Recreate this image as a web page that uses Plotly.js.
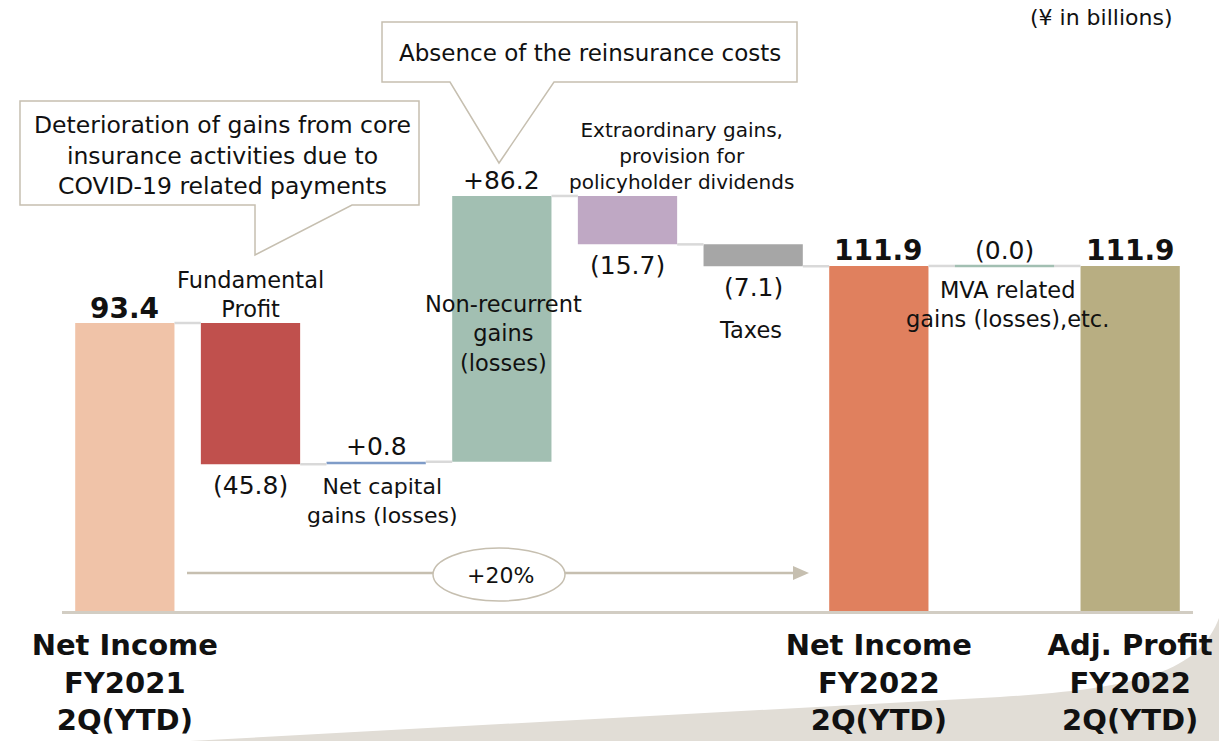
<!DOCTYPE html>
<html><head><meta charset="utf-8">
<script src="https://cdn.plot.ly/plotly-3.0.1.min.js"></script>
<style>html,body{margin:0;padding:0;background:#fff}#chart{width:1219px;height:741px}</style>
</head><body><div id="chart"></div>
<script>
// ---------- data ----------
const categories = ["Net Income FY2021 2Q(YTD)", "Fundamental Profit", "Net capital gains (losses)",
  "Non-recurrent gains (losses)", "Extraordinary gains, provision for policyholder dividends", "Taxes",
  "Net Income FY2022 2Q(YTD)", "MVA related gains (losses),etc.", "Adj. Profit FY2022 2Q(YTD)"];
const tickLabels = ["Net Income<br>FY2021<br>2Q(YTD)", "", "", "", "", "", "Net Income<br>FY2022<br>2Q(YTD)", "", "Adj. Profit<br>FY2022<br>2Q(YTD)"];
const measures = ["total", "relative", "relative", "relative", "relative", "relative", "total", "relative", "total"];
const values = [93.4, -45.8, 0.8, 86.2, -15.7, -7.1, 111.9, -0.0, 111.9];
const valueLabels = ["93.4", "(45.8)", "+0.8", "+86.2", "(15.7)", "(7.1)", "111.9", "(0.0)", "111.9"];
const stepLabels = ["", "Fundamental<br>Profit", "Net capital<br>gains (losses)", "Non-recurrent<br>gains<br>(losses)",
  "Extraordinary gains,<br>provision for<br>policyholder dividends", "Taxes", "", "MVA related<br>gains (losses),etc.", ""];
const barColors = ["#F0C3A8", "#C0504D", "#7F9CC8", "#A2BFB2", "#BFA8C4", "#A6A6A6", "#E0805E", "#A2BFB2", "#B8AE82"];
const unitLabel = "(¥ in billions)";
const calloutTexts = ["Deterioration of gains from core<br>insurance activities due to<br>COVID-19 related payments",
  "Absence of the reinsurance costs"];
const growthLabel = "+20%";

// ---------- layout geometry ----------
const W = 1219, H = 741;
const M = {l: 62, r: 26, t: 20, b: 130};
const plotW = W - M.l - M.r, plotH = H - M.t - M.b;
const pxPerUnit = 288 / 93.4;
const yMax = plotH / pxPerUnit;
const px = x => (x - M.l) / plotW;
const py = y => (H - M.b - y) / plotH;
const barW = 0.79, hw = barW / 2;
const FONT = "DejaVu Sans";
const INK = "#111111";
const BEIGE = "#C6BFB0";

// ---------- waterfall computation ----------
const xs = categories.map((_, i) => i);
const bases = [], heights = [], ends = [];
let run = 0;
values.forEach((v, i) => {
  if (measures[i] === "total") { bases.push(0); heights.push(v); run = v; }
  else { bases.push(run); heights.push(v); run = run + v; }
  ends.push(run);
});

const traces = [];
traces.push({
  type: "bar", x: xs, y: heights, base: bases, width: barW,
  marker: {color: barColors, line: {width: 0}}, hoverinfo: "skip", showlegend: false
});
// connectors
const cx = [], cy = [];
for (let i = 0; i < xs.length - 1; i++) {
  cx.push(xs[i] + hw, xs[i + 1] - hw, null);
  cy.push(ends[i], ends[i], null);
}
traces.push({type: "scatter", mode: "lines", x: cx, y: cy, line: {color: "#D9D9D9", width: 2.5},
  hoverinfo: "skip", showlegend: false});
// zero-height steps drawn as a thin line in their colour
values.forEach((v, i) => {
  if (Math.abs(v) < 0.05 && measures[i] === "relative") {
    traces.push({type: "scatter", mode: "lines", x: [xs[i] - hw, xs[i] + hw], y: [bases[i], bases[i]],
      line: {color: barColors[i], width: 2.5}, hoverinfo: "skip", showlegend: false});
  }
});

// ---------- annotations ----------
const ann = [];
values.forEach((v, i) => {
  const top = Math.max(bases[i], bases[i] + heights[i]);
  const bot = Math.min(bases[i], bases[i] + heights[i]);
  const isTotal = measures[i] === "total";
  const below = !isTotal && v < 0 && Math.abs(v) >= 0.05;
  ann.push({
    x: xs[i], y: below ? bot : top, xref: "x", yref: "y", text: valueLabels[i], showarrow: false,
    xanchor: "center", yanchor: "middle", yshift: below ? -21 : 15,
    font: {family: FONT, size: isTotal ? 28 : 25, color: INK, weight: isTotal ? "bold" : "normal"}
  });
});
const stepPos = {1: [250, 294, 22.5], 2: [383, 501, 22], 3: [503, 333, 22.5], 4: [681, 156, 20], 5: [750, 330, 22.5], 7: [1007, 304, 22.5]};
stepLabels.forEach((t, i) => {
  if (!t) return;
  const p = stepPos[i];
  ann.push({x: px(p[0]), y: py(p[1]), xref: "paper", yref: "paper", text: t, showarrow: false,
    xanchor: "center", yanchor: "middle", font: {family: FONT, size: p[2], color: INK}});
});
ann.push({x: px(1101), y: py(17), xref: "paper", yref: "paper", text: unitLabel, showarrow: false,
  xanchor: "center", yanchor: "middle", font: {family: FONT, size: 22, color: INK}});
ann.push({x: px(222), y: py(155), xref: "paper", yref: "paper", text: calloutTexts[0], showarrow: false,
  xanchor: "center", yanchor: "middle", font: {family: FONT, size: 23.5, color: INK}});
ann.push({x: px(590), y: py(53), xref: "paper", yref: "paper", text: calloutTexts[1], showarrow: false,
  xanchor: "center", yanchor: "middle", font: {family: FONT, size: 23, color: INK}});
ann.push({x: px(500), y: py(575), xref: "paper", yref: "paper", text: growthLabel, showarrow: false,
  xanchor: "center", yanchor: "middle", font: {family: FONT, size: 22, color: INK}});

// ---------- decorative shapes ----------
const P = pts => pts.map((p, k) => (k === 0 ? "M" : "L") + px(p[0]).toFixed(5) + "," + py(p[1]).toFixed(5)).join(" ") + " Z";
const shapes = [];
// bottom swoosh
shapes.push({type: "path", xref: "paper", yref: "paper", layer: "below",
  path: "M" + px(190) + "," + py(741) + " L" + px(1000) + "," + py(697) +
        " C" + px(1150) + "," + py(688) + " " + px(1200) + "," + py(668) + " " + px(1219) + "," + py(618) +
        " L" + px(1219) + "," + py(741) + " Z",
  fillcolor: "#E1DDD6", line: {width: 0}});
// callout 1
shapes.push({type: "path", xref: "paper", yref: "paper", layer: "above",
  path: P([[20, 101], [419, 101], [419, 205], [352, 205], [255, 255], [255, 205], [20, 205]]),
  fillcolor: "#FFFFFF", line: {color: BEIGE, width: 1.5}});
// callout 2
shapes.push({type: "path", xref: "paper", yref: "paper", layer: "above",
  path: P([[382, 22], [797, 22], [797, 82], [554, 82], [499, 163], [450, 82], [382, 82]]),
  fillcolor: "#FFFFFF", line: {color: BEIGE, width: 1.5}});
// growth arrow
shapes.push({type: "line", xref: "paper", yref: "paper", layer: "above",
  x0: px(187), x1: px(796), y0: py(573), y1: py(573), line: {color: BEIGE, width: 2.5}});
shapes.push({type: "path", xref: "paper", yref: "paper", layer: "above",
  path: P([[793, 566], [809, 573], [793, 580]]), fillcolor: BEIGE, line: {width: 0}});
shapes.push({type: "circle", xref: "paper", yref: "paper", layer: "above",
  x0: px(433), x1: px(565), y0: py(548), y1: py(601), fillcolor: "#FFFFFF", line: {color: BEIGE, width: 1.5}});

const layout = {
  width: W, height: H, margin: M,
  paper_bgcolor: "#FFFFFF", plot_bgcolor: "rgba(0,0,0,0)",
  showlegend: false, hovermode: false, barmode: "overlay",
  xaxis: {range: [-0.5, 8.5], tickvals: xs, ticktext: tickLabels, showgrid: false, zeroline: false,
    showline: true, linecolor: "#D2CDC3", linewidth: 3, ticks: "", ticklabelstandoff: 6,
    tickfont: {family: FONT, size: 29, color: INK, weight: "bold"}, fixedrange: true},
  yaxis: {range: [0, yMax], visible: false, showgrid: false, zeroline: false, fixedrange: true},
  annotations: ann, shapes: shapes
};
Plotly.newPlot("chart", traces, layout, {staticPlot: true, displayModeBar: false});
</script></body></html>
